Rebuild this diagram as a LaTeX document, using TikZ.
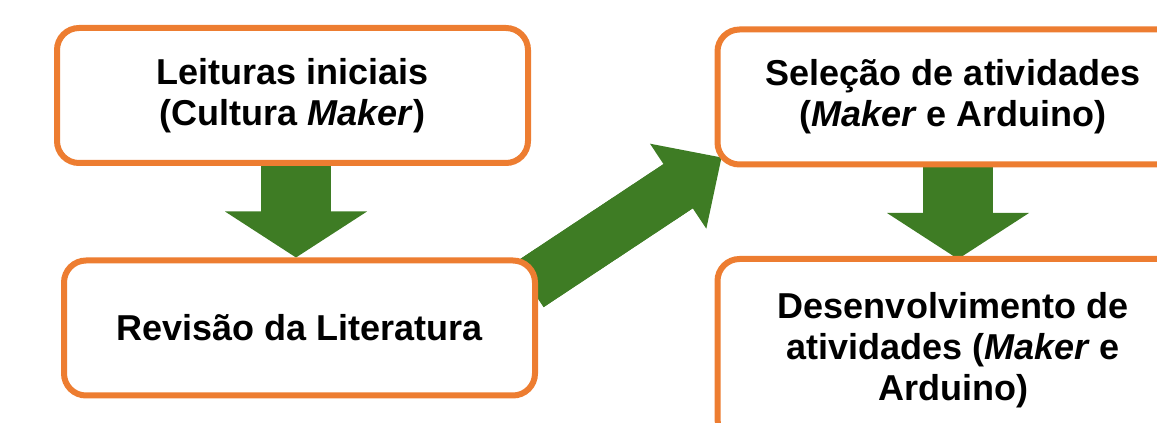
\documentclass[tikz,border=0pt]{standalone}
\usepackage{fontspec}
\setmainfont{Liberation Sans}
\usepackage{tikz}
\usetikzlibrary{arrows.meta,backgrounds,calc}
\definecolor{boxorange}{RGB}{237,125,49}
\definecolor{arrowgreen}{RGB}{62,124,36}

\begin{document}
\begin{tikzpicture}[x=1pt, y=1pt,
  etapa/.style={draw=boxorange, line width=6pt, fill=white, rounded corners=22pt,
    minimum width=471pt, minimum height=135pt, inner sep=0pt, align=center,
    font=\fontsize{36}{41}\selectfont\bfseries},
  setareta/.style={arrowgreen, line width=70pt,
    -{Triangle[width=142pt, length=46pt, line width=0pt]},
    postaction={draw, -, shorten >=25pt}},
  setadiag/.style={arrowgreen, line width=53pt,
    -{Triangle[width=102pt, length=52pt, line width=0pt]},
    postaction={draw, -, shorten >=30pt}}]
%%%%% Frame %%%%%
\useasboundingbox (0,0) rectangle (1157,423);
\clip (0,0) rectangle (1157,423);
%%%%% Steps %%%%%
\node[etapa] (leit) at (292.5,327.5) {Leituras iniciais\\(Cultura \textit{Maker})};
\node[etapa] (rev) at (299.5,95) {Revisão da Literatura};
\node[etapa] (sel) at (953,326) {Seleção de atividades\\(\textit{Maker} e Arduino)};
\node[etapa, minimum height=182pt] (dev) at (953,73) {Desenvolvimento de\\atividades (\textit{Maker} e\\Arduino)};
%%%%% Arrows %%%%%
\begin{scope}[on background layer]
\coordinate (m1) at ($(leit.south)!0.5!(rev.north)$);
\draw[setareta] (m1 |- leit.south) -- (m1 |- rev.north);
\draw[setadiag] ([shift={(-9,43)}]rev.east) -- ([shift={(7,10)}]sel.south west);
\draw[setareta] ([xshift=5pt]sel.south) -- ([xshift=5pt,yshift=-3pt]dev.north);
\end{scope}
\end{tikzpicture}
\end{document}
